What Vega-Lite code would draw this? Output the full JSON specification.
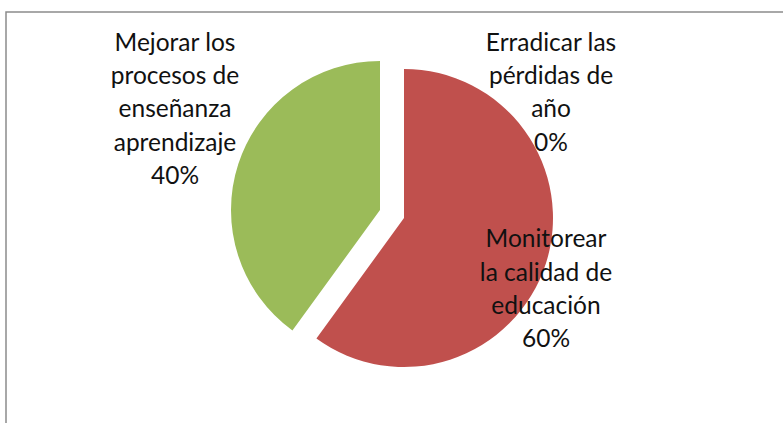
{
  "$schema": "https://vega.github.io/schema/vega-lite/v6.json",
  "width": 783,
  "height": 423,
  "autosize": {"type": "fit", "contains": "padding"},
  "padding": {"left": 5, "top": 11, "right": -4, "bottom": -4},
  "background": "white",
  "data": {"values": [
    {"categoria": "Erradicar las pérdidas de año", "valor": 0, "etiqueta": ["Erradicar las", "pérdidas de", "año", "0%"]},
    {"categoria": "Monitorear la calidad de educación", "valor": 60, "etiqueta": ["Monitorear", "la calidad de", "educación", "60%"]},
    {"categoria": "Mejorar los procesos de enseñanza aprendizaje", "valor": 40, "etiqueta": ["Mejorar los", "procesos de", "enseñanza", "aprendizaje", "40%"]}
  ]},
  "layer": [
    {
      "data": {"values": [{"marco": 1}]},
      "mark": {"type": "rect", "fill": null, "stroke": "#8c8c8c", "strokeWidth": 1.5},
      "encoding": {}
    },
    {
      "transform": [
        {"stack": "valor", "groupby": [], "as": ["inicio", "fin"]},
        {"filter": "datum.categoria === 'Monitorear la calidad de educación'"}
      ],
      "mark": {"type": "arc", "outerRadius": 149, "xOffset": 8, "yOffset": -1, "color": "#C0504D"},
      "encoding": {
        "theta": {"field": "inicio", "type": "quantitative", "scale": {"domain": [0, 100]}},
        "theta2": {"field": "fin"}
      }
    },
    {
      "transform": [
        {"stack": "valor", "groupby": [], "as": ["inicio", "fin"]},
        {"filter": "datum.categoria === 'Mejorar los procesos de enseñanza aprendizaje'"}
      ],
      "mark": {"type": "arc", "outerRadius": 149, "xOffset": -16, "yOffset": -9, "color": "#9BBB59"},
      "encoding": {
        "theta": {"field": "inicio", "type": "quantitative", "scale": {"domain": [0, 100]}},
        "theta2": {"field": "fin"}
      }
    },
    {
      "transform": [{"filter": "datum.categoria === 'Mejorar los procesos de enseñanza aprendizaje'"}],
      "mark": {"type": "text", "font": "Lato", "fontSize": 24.5, "lineHeight": 33.3, "align": "center", "baseline": "middle", "color": "#111111", "dx": -221, "dy": -175.3},
      "encoding": {"text": {"field": "etiqueta"}}
    },
    {
      "transform": [{"filter": "datum.categoria === 'Erradicar las pérdidas de año'"}],
      "mark": {"type": "text", "font": "Lato", "fontSize": 24.5, "lineHeight": 33.3, "align": "center", "baseline": "middle", "color": "#111111", "dx": 155, "dy": -175.3},
      "encoding": {"text": {"field": "etiqueta"}}
    },
    {
      "transform": [{"filter": "datum.categoria === 'Monitorear la calidad de educación'"}],
      "mark": {"type": "text", "font": "Lato", "fontSize": 24.5, "lineHeight": 33.3, "align": "center", "baseline": "middle", "color": "#111111", "dx": 150, "dy": 21.3},
      "encoding": {"text": {"field": "etiqueta"}}
    }
  ]
}
